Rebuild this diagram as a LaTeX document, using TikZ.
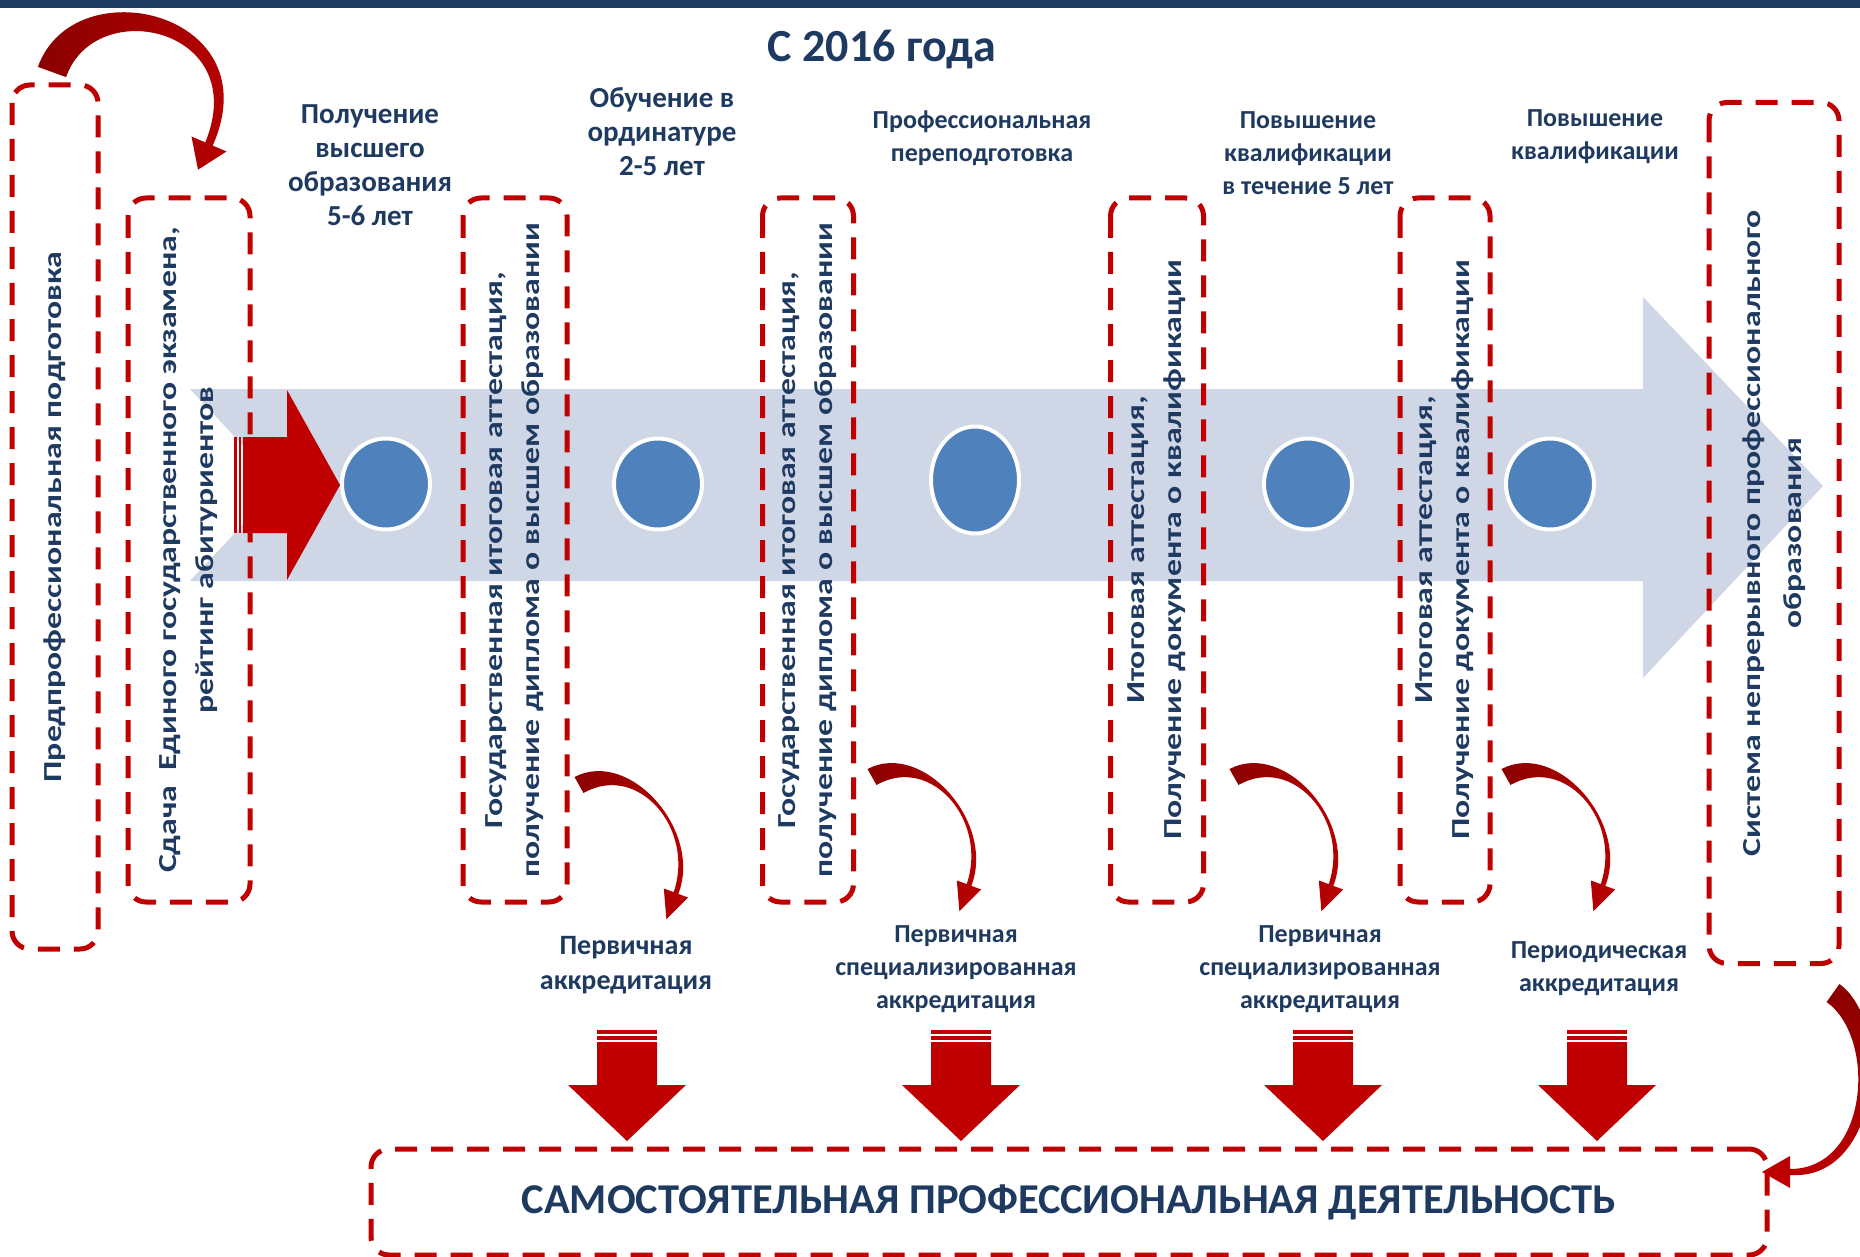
\documentclass[tikz,border=0pt]{standalone}
\usepackage{fontspec}
\setmainfont{Carlito}
\newfontfamily\stretchfont{Carlito}[FakeStretch=1.3]
\usetikzlibrary{shapes.geometric}

\definecolor{navy}{HTML}{1F3A60}
\definecolor{dashred}{HTML}{C00000}
\definecolor{arrowred}{HTML}{C00000}
\definecolor{arrowdark}{HTML}{8A0000}
\definecolor{bandblue}{HTML}{CFD6E6}
\definecolor{dotblue}{HTML}{4F81BD}

\tikzset{
  frame/.style={draw=dashred, line width=5pt, dash pattern=on 22pt off 14pt,
    rounded corners=18pt, inner sep=0pt, text=navy, align=center},
  vframe/.style={frame, rotate=90, font=\stretchfont\fontsize{26}{37}\selectfont\bfseries},
  dot/.style={ellipse, fill=dotblue, draw=white, line width=4pt,
    minimum width=88pt, minimum height=91pt, inner sep=0pt},
  toplabel/.style={text=navy, align=center, font=\fontsize{29}{34}\selectfont\bfseries},
  sidelabel/.style={text=navy, align=center, font=\fontsize{26}{33}\selectfont\bfseries},
  acclabel/.style={text=navy, align=center, font=\fontsize{28}{35}\selectfont\bfseries},
  bendarrow/.pic={
    \shade[left color=arrowdark, right color=arrowred]
      (-4.5,-8) .. controls (51,-37) and (123.8,46.4) .. (99.3,108.9)
      -- (109.2,112.5) -- (87.4,134.3) -- (84.8,103.5) -- (94.7,107.1)
      .. controls (116.2,43.6) and (59,-23) .. (4.5,8) -- cycle;
  },
  downblock/.pic={
    \fill[arrowred] (-30,0) rectangle (30,4);
    \fill[arrowred] (-30,6) rectangle (30,10);
    \fill[arrowred] (-30,12) -- (30,12) -- (30,55) -- (59,55) -- (0,111)
      -- (-59,55) -- (-30,55) -- cycle;
  }
}

\begin{document}
\begin{tikzpicture}[x=1pt, y=-1pt]
  \useasboundingbox (0,0) rectangle (1860,1257);
  \fill[white] (0,0) rectangle (1860,1257);
  \fill[navy] (0,0) rectangle (1860,8);

  % big timeline arrow
  \fill[bandblue] (190,389) -- (1643,389) -- (1643,297) -- (1823,486)
    -- (1643,678) -- (1643,581) -- (190,581) -- (280,485) -- cycle;

  \node[text=navy, font=\fontsize{46}{50}\selectfont\bfseries] (title) at (882,50) {С 2016 года};

  % steps
  \node[dot] (d1) at (386,484) {};
  \node[dot] (d2) at (658,484) {};
  \node[dot, minimum height=107pt] (d3) at (975,480) {};
  \node[dot] (d4) at (1308,484) {};
  \node[dot] (d5) at (1550,484) {};

  \node[vframe, minimum width=864pt, minimum height=86pt] (b1) at (55,517)
    {Предпрофессиональная подготовка};
  \node[vframe, minimum width=704pt, minimum height=122pt] (b2) at (189,550)
    {Сдача\ \ Единого государственного экзамена,\\рейтинг абитуриентов};
  \node[vframe, minimum width=704pt, minimum height=104pt] (b3) at (515,550)
    {Государственная итоговая аттестация,\\получение диплома о высшем образовании};
  \node[vframe, minimum width=704pt, minimum height=91pt] (b4) at (808,550)
    {Государственная итоговая аттестация,\\получение диплома о высшем образовании};
  \node[vframe, minimum width=704pt, minimum height=93pt] (b5) at (1157,550)
    {Итоговая аттестация,\\Получение документа о квалификации};
  \node[vframe, minimum width=704pt, minimum height=90pt] (b6) at (1445,550)
    {Итоговая аттестация,\\Получение документа о квалификации};
  \node[vframe, minimum width=861pt, minimum height=130pt,
    font=\stretchfont\fontsize{26}{41}\selectfont\bfseries] (b7) at (1774,533)
    {Система непрерывного профессионального\\образования};
  \node[frame, minimum width=1396pt, minimum height=106pt,
    font=\fontsize{42.5}{50}\selectfont\bfseries] (b8) at (1069,1202)
    {САМОСТОЯТЕЛЬНАЯ ПРОФЕССИОНАЛЬНАЯ ДЕЯТЕЛЬНОСТЬ};

  % labels
  \node[toplabel] (lhigher) at (370,165) {Получение\\высшего\\образования\\5-6 лет};
  \node[toplabel] (lresid) at (662,132) {Обучение в\\ординатуре\\2-5 лет};
  \node[sidelabel] (lretrain) at (982,138) {Профессиональная\\переподготовка};
  \node[sidelabel] (lqual5) at (1308,153) {Повышение\\квалификации\\в течение 5 лет};
  \node[sidelabel] (lqual) at (1595,137) {Повышение\\квалификации};
  \node[acclabel] (lacc1) at (626,965) {Первичная\\аккредитация};
  \node[sidelabel] (lacc2) at (956,969) {Первичная\\специализированная\\аккредитация};
  \node[sidelabel] (lacc3) at (1320,969) {Первичная\\специализированная\\аккредитация};
  \node[sidelabel] (lacc4) at (1599,969) {Периодическая\\аккредитация};

  % red arrow into the first step
  \fill[arrowred] (234,437) rectangle (236.5,533);
  \fill[arrowred] (238.5,437) rectangle (241,533);
  \fill[arrowred] (243,437) -- (287,437) -- (287,390) -- (340,485)
    -- (287,580) -- (287,533) -- (243,533) -- cycle;

  % bent arrows
  \shade[left color=arrowdark, right color=arrowred]
    (37.9,66.9) .. controls (74,-34) and (272,12) .. (212.7,145.6)
    -- (226.5,151.5) -- (198,169.7) -- (191.5,136.5) -- (205.3,142.4)
    .. controls (252,28) and (95,-6) .. (66.1,77.1) -- cycle;
  \pic at (579,785) {bendarrow};
  \pic at (872,777) {bendarrow};
  \pic at (1234,777) {bendarrow};
  \pic at (1506,777) {bendarrow};
  \shade[top color=arrowdark, bottom color=arrowred]
    (1839.4,984) .. controls (1893,1022) and (1881,1181) .. (1790,1175)
    -- (1790,1188) -- (1762,1172) -- (1790,1156) -- (1790,1169)
    .. controls (1869,1169) and (1877,1038) .. (1826.6,1002) -- cycle;

  % down arrows into the bottom frame
  \pic at (627,1030) {downblock};
  \pic at (961,1030) {downblock};
  \pic at (1323,1030) {downblock};
  \pic at (1597,1030) {downblock};
\end{tikzpicture}
\end{document}
